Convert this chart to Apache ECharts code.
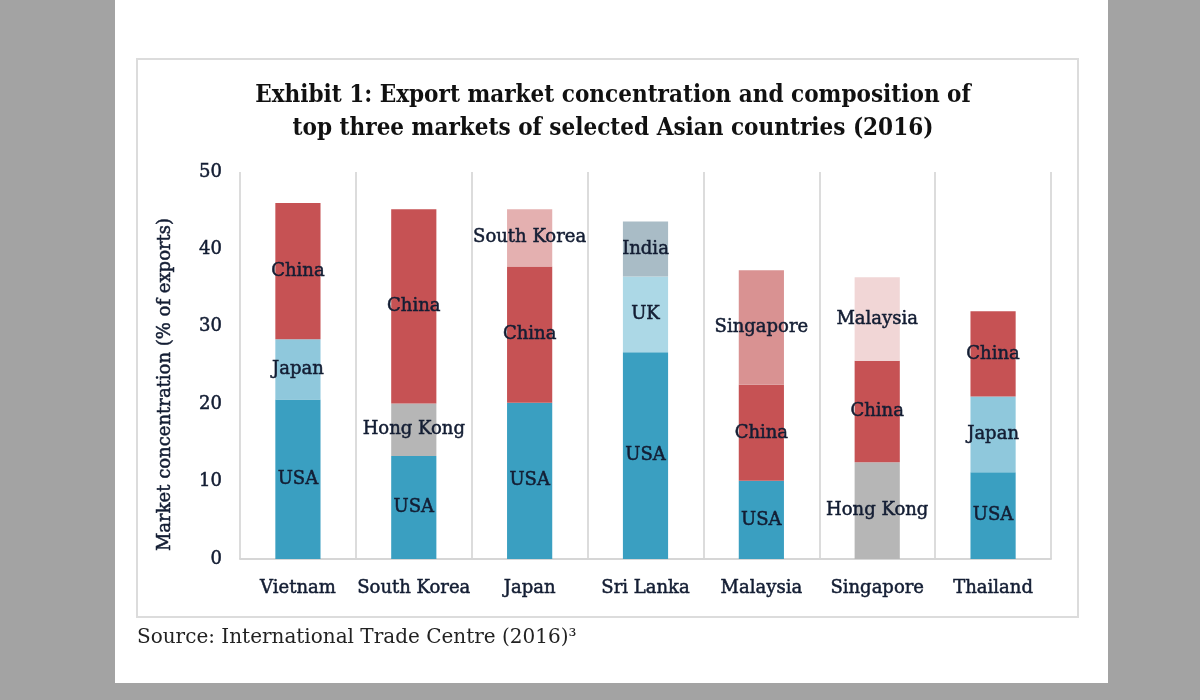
<!DOCTYPE html>
<html>
<head>
<meta charset="utf-8">
<script src="https://cdn.jsdelivr.net/npm/echarts@6/dist/echarts.min.js"></script>
<style>
  html, body { margin: 0; padding: 0; background: #a3a3a3; }
  #panel { position: absolute; left: 115px; top: 0; width: 993px; height: 683px; background: #fff; }
  #frame { position: absolute; left: 136px; top: 58px; width: 939px; height: 556px; border: 2px solid #dcdcdc; }
  #main { position: absolute; left: 0; top: 0; width: 1200px; height: 700px; }
</style>
</head>
<body>
<div id="panel"></div>
<div id="frame"></div>
<div id="main"></div>
<script>
const categories = ["Vietnam", "South Korea", "Japan", "Sri Lanka", "Malaysia", "Singapore", "Thailand"];

// top three markets per country, bottom to top of each bar
const firstMarket = ["USA", "USA", "USA", "USA", "USA", "Hong Kong", "USA"];
const firstShare = [20.6, 13.3, 20.2, 26.7, 10.1, 12.5, 11.2];
const secondMarket = ["Japan", "Hong Kong", "China", "UK", "China", "China", "Japan"];
const secondShare = [7.8, 6.8, 17.6, 9.8, 12.4, 13.1, 9.8];
const thirdMarket = ["China", "China", "South Korea", "India", "Singapore", "Malaysia", "China"];
const thirdShare = [17.6, 25.1, 7.4, 7.1, 14.8, 10.8, 11.0];

const yTicks = [0, 10, 20, 30, 40, 50];

const marketColor = {
  "USA": "#3a9fc1",
  "Japan": "#8fc8dc",
  "UK": "#acd8e6",
  "China": "#c65254",
  "Hong Kong": "#b6b6b6",
  "South Korea": "#e4b0b0",
  "India": "#a9bcc6",
  "Singapore": "#d99292",
  "Malaysia": "#f1d6d6"
};

const serif = "DejaVu Serif";
const ink = "#131d33";
// a thin outline in the text colour gives the semi-bold look of the original
const heavy = { textBorderColor: ink, textBorderWidth: 0.5 };

function makeSeries(names, values) {
  return {
    type: "bar",
    stack: "total",
    barWidth: "39%",
    data: values.map(function (v, i) {
      return {
        value: v,
        market: names[i],
        itemStyle: { color: marketColor[names[i]] }
      };
    }),
    label: Object.assign({
      show: true,
      position: "inside",
      formatter: function (p) { return p.data.market; },
      color: ink,
      fontFamily: serif,
      fontSize: 18
    }, heavy)
  };
}

const myChart = echarts.init(document.getElementById("main"));

const option = {
  animation: false,
  title: [
    {
      text: "Exhibit 1: Export market concentration and composition of\ntop three markets of selected Asian countries (2016)",
      left: 608,
      top: 74,
      textAlign: "center",
      textStyle: {
        fontFamily: "DejaVu Serif Condensed",
        fontWeight: "bold",
        fontSize: 24,
        lineHeight: 33,
        color: "#111"
      }
    },
    {
      text: "Source: International Trade Centre (2016)³",
      left: 132,
      top: 623,
      textStyle: {
        fontFamily: serif,
        fontWeight: "normal",
        fontSize: 20,
        color: "#222"
      }
    }
  ],
  grid: { left: 240, right: 149, top: 172, bottom: 141 },
  xAxis: {
    type: "category",
    data: categories,
    axisTick: { show: false },
    axisLine: { lineStyle: { color: "#d6d6d6", width: 2 } },
    splitLine: { show: true, interval: 0, lineStyle: { color: "#dcdcdc", width: 2 } },
    axisLabel: Object.assign({ interval: 0, color: ink, fontFamily: serif, fontSize: 18, margin: 20 }, heavy)
  },
  yAxis: {
    type: "value",
    min: yTicks[0],
    max: yTicks[yTicks.length - 1],
    interval: 10,
    splitLine: { show: false },
    axisLine: { show: false },
    axisTick: { show: false },
    axisLabel: Object.assign({ color: ink, fontFamily: serif, fontSize: 18, margin: 18 }, heavy),
    name: "Market concentration (% of exports)",
    nameLocation: "middle",
    nameGap: 66,
    nameTextStyle: Object.assign({ color: ink, fontFamily: serif, fontSize: 18, padding: [0, 38, 0, 0] }, heavy)
  },
  series: [
    makeSeries(firstMarket, firstShare),
    makeSeries(secondMarket, secondShare),
    makeSeries(thirdMarket, thirdShare)
  ]
};

option && myChart.setOption(option);
</script>
</body>
</html>
